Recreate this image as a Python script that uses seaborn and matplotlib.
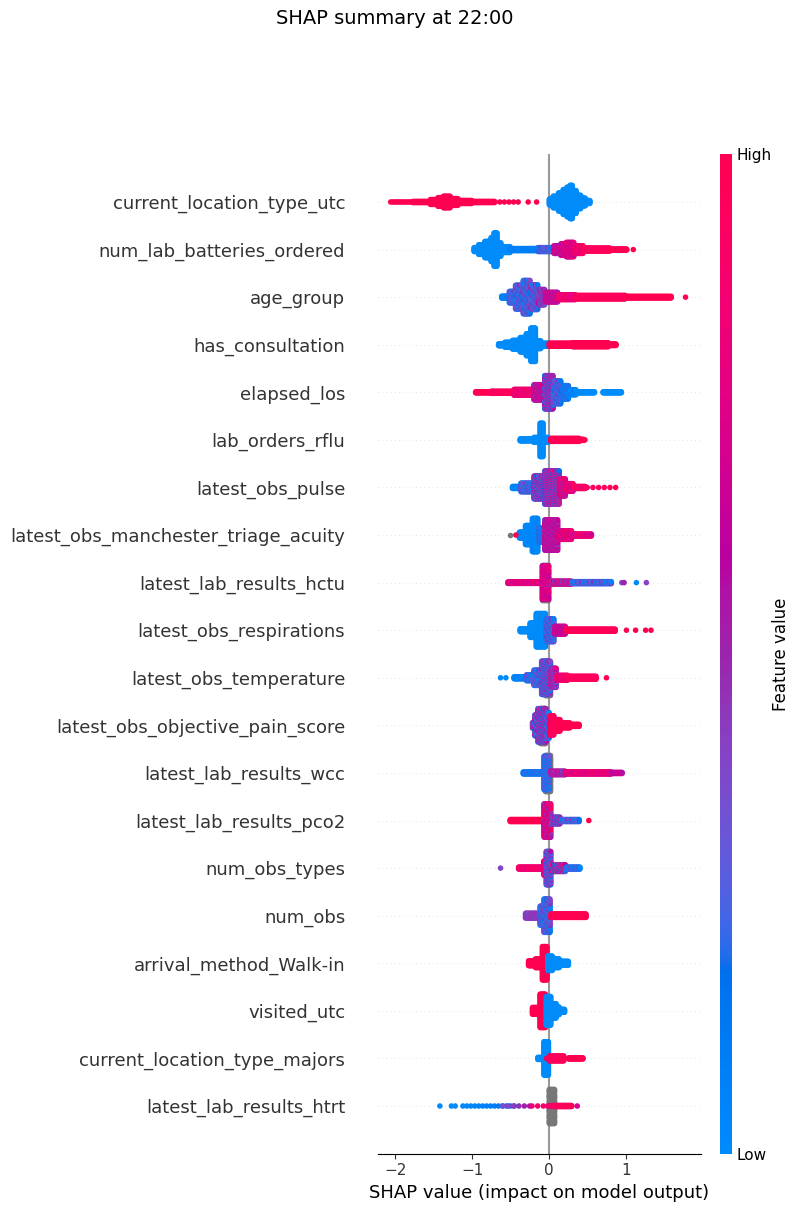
import numpy as np
import pandas as pd
import seaborn as sns
import matplotlib
matplotlib.use("Agg")
import matplotlib.pyplot as plt
from matplotlib.colors import LinearSegmentedColormap
from matplotlib.cm import ScalarMappable

features = [
    "current_location_type_utc",
    "num_lab_batteries_ordered",
    "age_group",
    "has_consultation",
    "elapsed_los",
    "lab_orders_rflu",
    "latest_obs_pulse",
    "latest_obs_manchester_triage_acuity",
    "latest_lab_results_hctu",
    "latest_obs_respirations",
    "latest_obs_temperature",
    "latest_obs_objective_pain_score",
    "latest_lab_results_wcc",
    "latest_lab_results_pco2",
    "num_obs_types",
    "num_obs",
    "arrival_method_Walk-in",
    "visited_utc",
    "current_location_type_majors",
    "latest_lab_results_htrt",
]

NA = np.nan  # missing feature value -> grey

# dense parts of each swarm
# (feature row, shap from, shap to, half height in rows, feature value low, high)
blobs = [
    # current_location_type_utc
    (0, -1.78, -1.55, 0.01, 1, 1), (0, -1.55, -1.45, 0.05, 1, 1),
    (0, -1.45, -1.38, 0.09, 1, 1), (0, -1.38, -1.28, 0.12, 1, 1),
    (0, -1.28, -1.18, 0.07, 1, 1), (0, -1.18, -1.00, 0.03, 1, 1),
    (0, -1.00, -0.70, 0.01, 1, 1),
    (0, 0.00, 0.05, 0.06, 0, 0), (0, 0.05, 0.12, 0.12, 0, 0),
    (0, 0.12, 0.18, 0.19, 0, 0), (0, 0.18, 0.23, 0.26, 0, 0),
    (0, 0.23, 0.27, 0.31, 0, 0), (0, 0.27, 0.31, 0.35, 0, 0),
    (0, 0.31, 0.36, 0.24, 0, 0), (0, 0.36, 0.42, 0.14, 0, 0),
    (0, 0.42, 0.48, 0.08, 0, 0), (0, 0.48, 0.54, 0.03, 0, 0),
    # num_lab_batteries_ordered
    (1, -0.98, -0.92, 0.04, 0, 0), (1, -0.92, -0.84, 0.10, 0, 0),
    (1, -0.84, -0.76, 0.17, 0, 0), (1, -0.76, -0.72, 0.25, 0, 0),
    (1, -0.72, -0.67, 0.35, 0, 0), (1, -0.67, -0.62, 0.14, 0, 0),
    (1, -0.62, -0.50, 0.06, 0, 0), (1, -0.50, -0.15, 0.02, 0, 0.15),
    (1, -0.15, 0.06, 0.04, 0, 0.5), (1, 0.06, 0.15, 0.08, 0.45, 0.9),
    (1, 0.15, 0.22, 0.12, 0.5, 0.9), (1, 0.22, 0.33, 0.15, 0.55, 0.95),
    (1, 0.33, 0.45, 0.08, 0.7, 1), (1, 0.45, 0.80, 0.03, 0.9, 1),
    (1, 0.80, 1.02, 0.01, 1, 1),
    # age_group
    (2, -0.62, -0.52, 0.02, 0, 0.1), (2, -0.52, -0.44, 0.12, 0, 0.45),
    (2, -0.44, -0.34, 0.25, 0, 0.5), (2, -0.34, -0.24, 0.35, 0, 0.5),
    (2, -0.24, -0.14, 0.26, 0.05, 0.55), (2, -0.14, -0.05, 0.16, 0.2, 0.65),
    (2, -0.05, 0.12, 0.10, 0.45, 0.85), (2, 0.12, 0.35, 0.05, 0.7, 1),
    (2, 0.35, 1.00, 0.035, 0.9, 1), (2, 1.00, 1.60, 0.015, 1, 1),
    # has_consultation
    (3, -0.66, -0.58, 0.02, 0, 0), (3, -0.58, -0.48, 0.05, 0, 0),
    (3, -0.48, -0.38, 0.09, 0, 0), (3, -0.38, -0.30, 0.15, 0, 0),
    (3, -0.30, -0.24, 0.23, 0, 0), (3, -0.24, -0.17, 0.35, 0, 0),
    (3, -0.17, -0.10, 0.08, 0, 0), (3, -0.10, 0.00, 0.03, 0, 0),
    (3, 0.00, 0.30, 0.03, 1, 1), (3, 0.30, 0.78, 0.04, 1, 1),
    (3, 0.78, 0.88, 0.015, 1, 1),
    # elapsed_los
    (4, -0.96, -0.76, 0.01, 1, 1), (4, -0.76, -0.46, 0.02, 0.9, 1),
    (4, -0.46, -0.20, 0.06, 0.7, 1), (4, -0.20, -0.06, 0.16, 0.4, 0.85),
    (4, -0.06, 0.06, 0.35, 0.1, 0.75), (4, 0.06, 0.16, 0.24, 0, 0.5),
    (4, 0.16, 0.26, 0.14, 0, 0.3), (4, 0.26, 0.36, 0.05, 0, 0.1),
    (4, 0.36, 0.60, 0.01, 0, 0), (4, 0.70, 0.95, 0.01, 0, 0),
    # lab_orders_rflu
    (5, -0.38, -0.20, 0.02, 0, 0), (5, -0.20, -0.12, 0.05, 0, 0),
    (5, -0.12, -0.07, 0.35, 0, 0), (5, -0.07, 0.00, 0.05, 0, 0),
    (5, 0.02, 0.40, 0.03, 1, 1), (5, 0.40, 0.46, 0.01, 1, 1),
    # latest_obs_pulse
    (6, -0.48, -0.37, 0.02, 0, 0.1), (6, -0.37, -0.20, 0.09, 0, 0.5),
    (6, -0.20, -0.06, 0.24, 0, 0.8), (6, -0.06, 0.14, 0.35, 0.1, 0.9),
    (6, 0.14, 0.22, 0.18, 0.4, 1), (6, 0.22, 0.32, 0.08, 0.6, 1),
    (6, 0.32, 0.48, 0.02, 0.8, 1),
    # latest_obs_manchester_triage_acuity
    (7, -0.39, -0.31, 0.06, 0, 0.05), (7, -0.31, -0.22, 0.20, 0, 0.05),
    (7, -0.22, -0.14, 0.35, 0, 0.05), (7, -0.14, -0.06, 0.15, 0, 0.3),
    (7, -0.06, 0.12, 0.32, 0.4, 0.8), (7, 0.12, 0.30, 0.09, 0.55, 1),
    (7, 0.30, 0.56, 0.02, 0.6, 1),
    # latest_lab_results_hctu
    (8, -0.09, 0.00, 0.37, NA, NA),
    (8, -0.54, -0.09, 0.015, 0.55, 1), (8, -0.09, 0.00, 0.35, 0.6, 0.85),
    (8, 0.00, 0.30, 0.03, 0.3, 1), (8, 0.30, 0.82, 0.02, 0, 0.5),
    # latest_obs_respirations
    (9, -0.38, -0.25, 0.03, 0, 0), (9, -0.25, -0.17, 0.15, 0, 0),
    (9, -0.17, -0.04, 0.35, 0, 0), (9, -0.04, 0.07, 0.24, 0, 0.5),
    (9, 0.07, 0.22, 0.08, 0.5, 0.8), (9, 0.22, 0.87, 0.02, 0.95, 1),
    # latest_obs_temperature
    (10, -0.06, 0.02, 0.36, NA, NA),
    (10, -0.46, -0.30, 0.02, 0, 0.1), (10, -0.30, -0.20, 0.06, 0, 0.4),
    (10, -0.20, -0.10, 0.16, 0, 0.5), (10, -0.10, 0.02, 0.35, 0.05, 0.6),
    (10, 0.02, 0.10, 0.20, 0.2, 0.8), (10, 0.10, 0.25, 0.05, 0.7, 1),
    (10, 0.25, 0.62, 0.03, 0.9, 1),
    # latest_obs_objective_pain_score
    (11, -0.12, -0.04, 0.37, NA, NA),
    (11, -0.22, -0.19, 0.06, 0.4, 0.5), (11, -0.19, -0.15, 0.22, 0, 0.7),
    (11, -0.15, -0.03, 0.35, 0, 0.8), (11, -0.03, 0.01, 0.27, 0, 0.6),
    (11, 0.01, 0.07, 0.20, 0.9, 1), (11, 0.07, 0.15, 0.12, 0.95, 1),
    (11, 0.15, 0.28, 0.05, 1, 1), (11, 0.28, 0.40, 0.02, 1, 1),
    # latest_lab_results_wcc
    (12, -0.06, 0.02, 0.37, NA, NA),
    (12, -0.34, -0.07, 0.02, 0, 0.3), (12, -0.07, 0.01, 0.35, 0, 0.4),
    (12, 0.01, 0.22, 0.035, 0.3, 0.8), (12, 0.22, 0.82, 0.02, 0.6, 1),
    (12, 0.82, 0.96, 0.01, 0.5, 0.8),
    # latest_lab_results_pco2
    (13, -0.51, -0.07, 0.02, 1, 1), (13, -0.07, 0.03, 0.35, 0.4, 1),
    (13, 0.03, 0.15, 0.07, 0.1, 0.7), (13, 0.15, 0.40, 0.02, 0, 0.5),
    # num_obs_types
    (14, -0.40, -0.07, 0.02, 0.75, 1), (14, -0.07, -0.04, 0.15, 0.5, 1),
    (14, -0.04, 0.03, 0.35, 0.1, 0.6), (14, 0.03, 0.22, 0.07, 0, 1),
    (14, 0.22, 0.41, 0.02, 0, 0.4),
    # num_obs
    (15, -0.31, -0.12, 0.05, 0.35, 0.5), (15, -0.12, -0.07, 0.20, 0, 0.5),
    (15, -0.07, 0.02, 0.35, 0, 0.5), (15, 0.02, 0.49, 0.035, 1, 1),
    # arrival_method_Walk-in
    (16, -0.27, -0.18, 0.05, 1, 1), (16, -0.18, -0.09, 0.09, 1, 1),
    (16, -0.09, -0.02, 0.35, 1, 1), (16, -0.02, 0.05, 0.15, 0, 0),
    (16, 0.05, 0.14, 0.09, 0, 0), (16, 0.14, 0.26, 0.04, 0, 0),
    # visited_utc
    (17, -0.22, -0.12, 0.07, 1, 1), (17, -0.12, -0.04, 0.35, 1, 1),
    (17, -0.04, 0.03, 0.30, 0, 0), (17, 0.03, 0.10, 0.15, 0, 0),
    (17, 0.10, 0.14, 0.08, 0, 0), (17, 0.14, 0.21, 0.03, 0, 0),
    # current_location_type_majors
    (18, -0.15, -0.07, 0.02, 0, 0), (18, -0.07, 0.00, 0.35, 0, 0),
    (18, 0.00, 0.20, 0.05, 0.9, 1), (18, 0.25, 0.45, 0.01, 1, 1),
    # latest_lab_results_htrt
    (19, -0.01, 0.07, 0.36, NA, NA),
    (19, -0.02, 0.08, 0.00, 0.5, 1), (19, 0.05, 0.30, 0.01, 0.85, 1),
]

# single dots in the tails
# (feature row, shap from, shap to, number of dots, feature value low, high)
dots = [
    (0, -2.06, -1.80, 12, 1, 1), (0, -0.64, -0.40, 5, 1, 1),
    (0, -0.27, -0.16, 2, 1, 1),
    (1, 1.10, 1.10, 1, 1, 1),
    (2, 1.78, 1.78, 1, 1, 1),
    (5, 0.47, 0.47, 1, 1, 1),
    (6, 0.50, 0.87, 6, 0.9, 1),
    (7, -0.51, -0.51, 1, NA, NA), (7, -0.43, -0.43, 1, 1, 1),
    (8, 0.95, 0.98, 2, 0.4, 0.5), (8, 1.14, 1.14, 1, 0, 0),
    (8, 1.27, 1.27, 1, 0.4, 0.45),
    (9, 1.01, 1.01, 1, 1, 1), (9, 1.13, 1.13, 1, 1, 1),
    (9, 1.26, 1.26, 1, 1, 1), (9, 1.33, 1.33, 1, 1, 1),
    (10, -0.63, -0.56, 2, 0, 0), (10, 0.75, 0.75, 1, 1, 1),
    (13, 0.52, 0.52, 1, 1, 1),
    (14, -0.63, -0.63, 1, 0.4, 0.4),
    (18, -0.03, -0.03, 1, 1, 1),
    (19, -1.42, -1.42, 1, 0, 0), (19, -1.27, -1.22, 2, 0, 0),
    (19, -1.12, -0.45, 14, 0, 0.15), (19, -0.60, -0.25, 6, 0.35, 0.55),
    (19, -0.22, 0.30, 8, 0.85, 1), (19, 0.37, 0.37, 1, 0.7, 0.7),
]


# shap's red_blue colour map (interpolated in LCH space)
def lch_to_rgb(l, c, h):
    a, b = c * np.cos(h), c * np.sin(h)
    fy = (l + 16) / 116
    f = np.array([fy + a / 500, fy, fy - b / 200])
    f = np.where(f > 6 / 29, f ** 3, 3 * (6 / 29) ** 2 * (f - 4 / 29))
    xyz = f * np.array([0.95047, 1.0, 1.08883])
    m = np.array([[3.2406, -1.5372, -0.4986],
                  [-0.9689, 1.8758, 0.0415],
                  [0.0557, -0.2040, 1.0570]])
    rgb = m @ xyz
    rgb = np.where(rgb > 0.0031308, 1.055 * np.abs(rgb) ** (1 / 2.4) - 0.055, 12.92 * rgb)
    return np.clip(rgb, 0, 1)


steps = 100
l_vals = list(np.linspace(54, 40, steps // 2)) + list(np.linspace(40, 54, steps // 2))
c_vals = np.linspace(70, 90, steps)
h_vals = np.linspace(4.6588, 0.35470565 + 2 * np.pi, steps)
red_blue = LinearSegmentedColormap.from_list(
    "red_blue", [lch_to_rgb(l, c, h) for l, c, h in zip(l_vals, c_vals, h_vals)])

# build the swarm points
px, py, pv = [], [], []
n_feat = len(features)
for row, x0, x1, h, v0, v1 in blobs:
    ncol = max(1, int(round((x1 - x0) / 0.012)))
    xs = x0 + (np.arange(ncol) + 0.5) * (x1 - x0) / ncol
    ys = np.linspace(-h, h, int(np.ceil(2 * h / 0.025)) + 1) if h > 0 else np.array([0.0])
    gx, gy = np.meshgrid(xs, ys)
    t = (np.arange(gx.size) * 0.618034) % 1
    px.append(gx.ravel())
    py.append(n_feat - 1 - row + gy.ravel())
    pv.append(v0 + (v1 - v0) * t)
for row, x0, x1, cnt, v0, v1 in dots:
    t = np.linspace(0, 1, cnt)
    px.append(np.linspace(x0, x1, cnt))
    py.append(np.full(cnt, n_feat - 1 - row, dtype=float))
    pv.append(v0 + (v1 - v0) * t)

pts = pd.DataFrame({"shap": np.concatenate(px), "pos": np.concatenate(py),
                    "value": np.concatenate(pv)})
missing = pts[pts["value"].isna()]
known = pts[pts["value"].notna()]

fig = plt.figure(figsize=(8, 12.12), dpi=100)
ax = fig.add_axes([0.4725, 0.0482, 0.4034, 0.8244])
cax = fig.add_axes([0.9, 0.0482, 0.0146, 0.8244])

for pos in range(n_feat):
    ax.axhline(y=pos, color="#cccccc", lw=0.5, dashes=(1, 5), zorder=-1)
ax.axvline(x=0, color="#999999", zorder=-1)

sns.scatterplot(data=missing, x="shap", y="pos", color="#777777", s=16,
                linewidth=0, zorder=3, legend=False, ax=ax)
sns.scatterplot(data=known, x="shap", y="pos", hue="value", palette=red_blue,
                hue_norm=(0, 1), s=16, linewidth=0, zorder=3, legend=False, ax=ax)

axis_color = "#333333"
ax.set_xlim(-2.226, 1.978)
ax.set_ylim(-1, n_feat)
ax.xaxis.set_ticks_position("bottom")
ax.yaxis.set_ticks_position("none")
for side in ["right", "top", "left"]:
    ax.spines[side].set_visible(False)
ax.tick_params(color=axis_color, labelcolor=axis_color)
ax.set_yticks(range(n_feat))
ax.set_yticklabels(features[::-1], fontsize=13)
ax.tick_params("y", length=20, width=0.5, which="major")
ax.tick_params("x", labelsize=11)
ax.set_xticks([-2, -1, 0, 1])
ax.set_xlabel("SHAP value (impact on model output)", fontsize=13)
ax.set_ylabel("")

sm = ScalarMappable(cmap=red_blue)
sm.set_array([0, 1])
cb = fig.colorbar(sm, cax=cax, ticks=[0, 1])
cb.set_ticklabels(["Low", "High"])
cb.set_label("Feature value", size=12, labelpad=0)
cb.ax.tick_params(labelsize=11, length=0)
cb.outline.set_visible(False)

fig.suptitle("SHAP summary at 22:00", fontsize=14, x=0.494, y=0.9845, va="center")
fig.savefig("out.png", dpi=100)
